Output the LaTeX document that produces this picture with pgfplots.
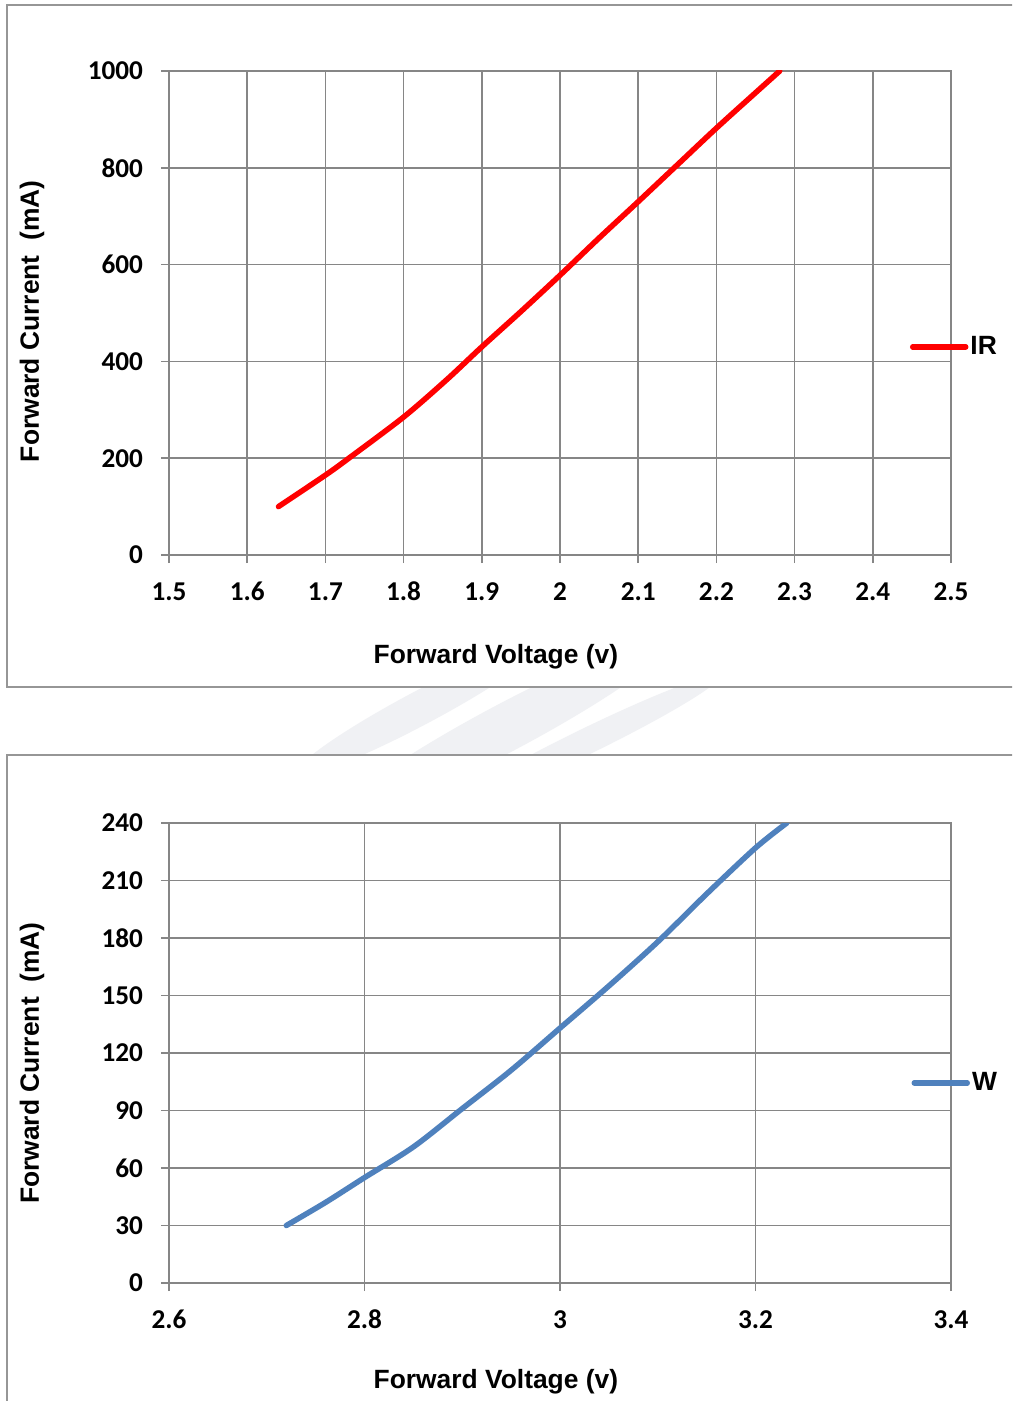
\documentclass[border=0pt]{standalone}
\usepackage{fontspec}
\setmainfont{Liberation Sans}
\newfontfamily\calibri{Carlito}
\usepackage{pgfplots}
\pgfplotsset{compat=1.18}
\definecolor{gridgray}{RGB}{134,134,134}
\definecolor{framegray}{RGB}{150,150,150}
\definecolor{irred}{RGB}{255,0,0}
\definecolor{wblue}{RGB}{79,129,189}
\definecolor{wm}{RGB}{240,241,244}
\newcommand\tickfont{\calibri\bfseries\fontsize{13.6}{13.6}\selectfont}
\newcommand\labfont{\bfseries\fontsize{13.2}{14}\selectfont}
\pgfplotsset{
  mystyle/.style={
    scale only axis, width=391pt, anchor=south west,
    clip mode=individual,
    grid=major,
    major grid style={line width=0.75pt, draw=gridgray},
    axis line style={line width=0.75pt, draw=gridgray},
    major tick style={line width=0.75pt, draw=gridgray},
    tick align=outside, major tick length=4pt, tick pos=left,
    ticklabel style={font=\tickfont, text=black},
    xticklabel style={yshift=-6pt, text height=9pt, text depth=0pt},
    yticklabel style={xshift=-5.5pt},
    /pgf/number format/assume math mode=true,
    /pgf/number format/1000 sep={},
    scaled ticks=false,
    legend style={draw=none, fill=none, anchor=west, inner sep=0pt,
      nodes={inner sep=0pt, font=\labfont}, column sep=1pt},
    legend image code/.code={\draw[#1, line cap=round] (0pt,0pt) -- (26.5pt,0pt);},
  }
}
\begin{document}
\begin{tikzpicture}
\useasboundingbox (0,0) rectangle (506pt,-700.5pt);
\clip (0,0) rectangle (506pt,-700.5pt);
\fill[white] (0,0) rectangle (506pt,-700.5pt);
\begin{scope}[x=0.5pt,y=-0.5pt]
  \fill[wm] (420,708) ellipse[x radius=140, y radius=17, rotate=28];
  \fill[wm] (505,728) ellipse[x radius=190, y radius=24, rotate=28];
  \fill[wm] (585,742) ellipse[x radius=150, y radius=13, rotate=26];
  \draw[framegray, line width=1pt, fill=white] (7,5) rectangle (1030,687);
  \draw[framegray, line width=1pt, fill=white] (7,755) rectangle (1030,1420);
\end{scope}

\begin{axis}[mystyle, at={(84.5pt,-277.5pt)}, height=242pt,
  xmin=1.5, xmax=2.5, ymin=0, ymax=1000,
  xtick={1.5,1.6,1.7,1.8,1.9,2,2.1,2.2,2.3,2.4,2.5},
  ytick={0,200,400,600,800,1000},
  legend style={at={(rel axis cs:0.947,0.43)}},
]
\addplot[irred, line width=2.75pt, smooth, line cap=round] coordinates {
 (1.64,100) (1.70,165) (1.73,200) (1.80,285) (1.855,362) (1.90,430)
 (1.95,503) (2.00,578) (2.05,655) (2.10,730) (2.15,806) (2.20,882)
 (2.25,955) (2.281,1000)};
\addlegendentry{IR}
\node[font=\labfont, xshift=-68.5pt, rotate=90] at (rel axis cs:0,0.483) {Forward Current\ \ (mA)};
\node[font=\labfont] at (rel axis cs:0.418,0) [yshift=-51pt] {Forward Voltage (v)};
\end{axis}

\begin{axis}[mystyle, at={(84.5pt,-641.5pt)}, height=230pt,
  xmin=2.6, xmax=3.4, ymin=0, ymax=240,
  xtick={2.6,2.8,3,3.2,3.4},
  ytick={0,30,60,90,120,150,180,210,240},
  legend style={at={(rel axis cs:0.949,0.435)}},
]
\addplot[wblue, line width=2.75pt, smooth, line cap=round] coordinates {
 (2.72,30) (2.76,42) (2.80,55) (2.85,71) (2.90,91) (2.95,111)
 (3.00,133) (3.05,155) (3.10,178) (3.15,203) (3.20,227) (3.232,240)};
\addlegendentry{W}
\node[font=\labfont, xshift=-68.5pt, rotate=90] at (rel axis cs:0,0.478) {Forward Current\ \ (mA)};
\node[font=\labfont] at (rel axis cs:0.418,0) [yshift=-49.5pt] {Forward Voltage (v)};
\end{axis}
\end{tikzpicture}
\end{document}
